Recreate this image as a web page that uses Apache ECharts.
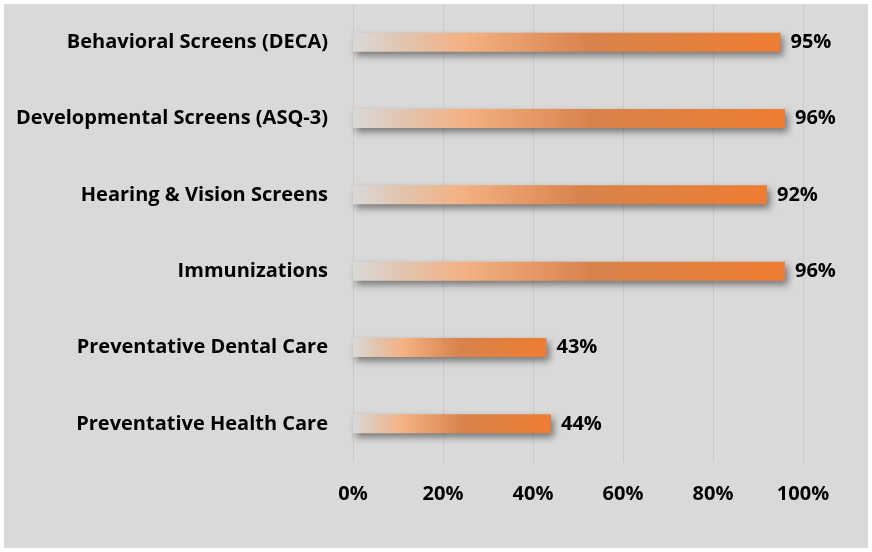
<!DOCTYPE html>
<html>
<head>
<meta charset="utf-8">
<script src="https://cdn.jsdelivr.net/npm/echarts@6/dist/echarts.min.js"></script>
<style>
  html, body { margin: 0; padding: 0; background: #fff; }
  #myChart { position: absolute; left: 4px; top: 4px; width: 864px; height: 544px; background: #d9d9d9; }
</style>
</head>
<body>
<div id="myChart"></div>
<script>
const categories = [
  'Behavioral Screens (DECA)',
  'Developmental Screens (ASQ-3)',
  'Hearing & Vision Screens',
  'Immunizations',
  'Preventative Dental Care',
  'Preventative Health Care'
]
const percents = [95, 96, 92, 96, 43, 44]
const tickValues = [0, 20, 40, 60, 80, 100]

const font = 'Open Sans, Liberation Sans, sans-serif'
const myChart = echarts.init(document.getElementById('myChart'))
myChart.setOption({
  animation: false,
  grid: {
    top: 0,
    left: 349,
    right: 65,
    bottom: 86
  },
  xAxis: {
    type: 'value',
    min: 0,
    max: 100,
    interval: 20,
    axisLine: { show: false },
    axisTick: { show: false },
    splitLine: {
      lineStyle: { color: '#c9c9c9', width: 1 }
    },
    axisLabel: {
      margin: 22,
      color: '#000',
      fontWeight: 'bold',
      fontSize: 20,
      fontFamily: font,
      formatter: v => tickValues.includes(v) ? v + '%' : ''
    }
  },
  yAxis: {
    type: 'category',
    inverse: true,
    data: categories,
    axisLine: { show: false },
    axisTick: { show: false },
    axisLabel: {
      margin: 25,
      color: '#000',
      fontWeight: 'bold',
      fontSize: 20,
      fontFamily: font
    }
  },
  series: [
    {
      type: 'bar',
      data: percents,
      barWidth: 19,
      itemStyle: {
        color: new echarts.graphic.LinearGradient(0, 0, 1, 0, [
          { offset: 0, color: 'rgba(217,217,217,1)' },
          { offset: 0.12, color: '#e2c4ae' },
          { offset: 0.26, color: '#f4b183' },
          { offset: 0.55, color: '#d8834c' },
          { offset: 1, color: '#ee7d31' }
        ]),
        shadowColor: 'rgba(0,0,0,0.45)',
        shadowBlur: 7,
        shadowOffsetX: 3,
        shadowOffsetY: 4
      },
      label: {
        show: true,
        position: 'right',
        distance: 10,
        color: '#000',
        fontWeight: 'bold',
        fontSize: 20,
        fontFamily: font,
        formatter: p => p.value + '%'
      }
    }
  ]
})
</script>
</body>
</html>
